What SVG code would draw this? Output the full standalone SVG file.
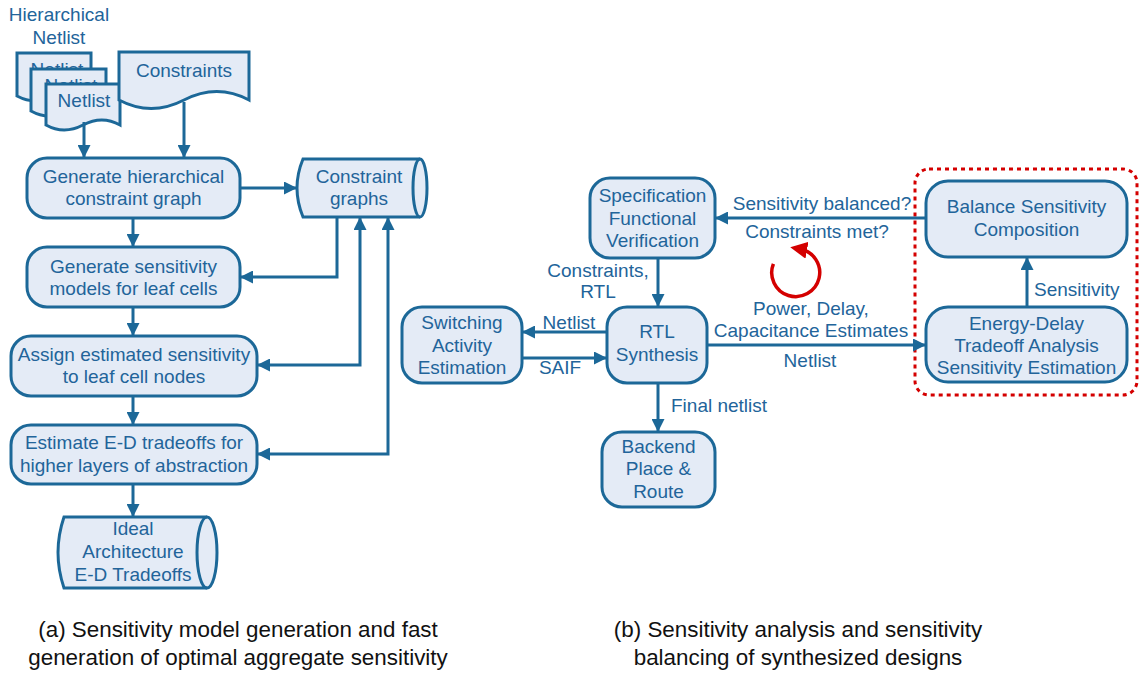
<svg xmlns="http://www.w3.org/2000/svg" width="1141" height="675" viewBox="0 0 1141 675">
<defs>
<style>
.n{fill:#e4ebf6;stroke:#1c6898;stroke-width:3}
.l{fill:none;stroke:#1c6898;stroke-width:3}
text{font-family:"Liberation Sans",Arial,sans-serif;font-size:19px;fill:#22649a}
.c{text-anchor:middle}
.cap{font-size:22.4px;fill:#111;text-anchor:middle}
</style>
<marker id="ah" viewBox="0 0 12 12" refX="12" refY="6" markerWidth="13" markerHeight="13" markerUnits="userSpaceOnUse" orient="auto-start-reverse">
<path d="M0,0 L12,6 L0,12 Z" fill="#1c6898"/>
</marker>
<marker id="rh" viewBox="0 0 12 12" refX="5" refY="6" markerWidth="17" markerHeight="17" markerUnits="userSpaceOnUse" orient="auto">
<path d="M0,0 L12,6 L0,12 Z" fill="#d40000"/>
</marker>
<clipPath id="c1"><path d="M17,53 H91 V69 H31 V96 H17 Z"/></clipPath>
<clipPath id="c2"><path d="M31,69 H106 V84 H46 V111 H31 Z"/></clipPath>
</defs>
<rect width="1141" height="675" fill="#fff"/>

<g id="hier-label"><text class="c" x="59" y="21">Hierarchical</text><text class="c" x="59" y="44">Netlist</text></g>

<g id="netlist1"><path class="n" d="M17,53 H91 V96 Q72,86 54,96 T17,96 Z"/><text class="c" x="57" y="76" clip-path="url(#c1)">Netlist</text></g>
<g id="netlist2"><path class="n" d="M31,69 H106 V111 Q87,101 68,111 T31,111 Z"/><text class="c" x="71" y="92" clip-path="url(#c2)">Netlist</text></g>
<g id="netlist3"><path class="n" d="M46,84 H120 V125 Q102,115 83,125 T46,125 Z"/><text class="c" x="84" y="107">Netlist</text></g>
<g id="constraints"><path class="n" d="M119,52 H249 V100 Q217,83 184,100 T119,100 Z"/><text class="c" x="184" y="77">Constraints</text></g>

<g id="gen-hier"><rect class="n" x="27" y="158" width="213" height="60" rx="20"/><text class="c" x="133.5" y="183">Generate hierarchical</text><text class="c" x="133.5" y="205">constraint graph</text></g>
<g id="constraint-graphs"><path class="n" d="M303,159 H420 A7,29 0 0 1 420,217 H303 Q291,188 303,159 Z"/><path class="l" d="M420,159 A7,29 0 0 0 420,217"/><text class="c" x="359" y="183">Constraint</text><text class="c" x="359" y="205">graphs</text></g>
<g id="gen-sens"><rect class="n" x="27" y="247" width="213" height="60" rx="20"/><text class="c" x="133.5" y="273">Generate sensitivity</text><text class="c" x="133.5" y="295">models for leaf cells</text></g>
<g id="assign"><rect class="n" x="11" y="336" width="246" height="60" rx="20"/><text class="c" x="134" y="361">Assign estimated sensitivity</text><text class="c" x="134" y="383">to leaf cell nodes</text></g>
<g id="estimate"><rect class="n" x="11" y="425" width="246" height="59" rx="20"/><text class="c" x="134" y="449">Estimate E-D tradeoffs for</text><text class="c" x="134" y="472">higher layers of abstraction</text></g>
<g id="ideal"><path class="n" d="M64,517 H207 A10,35.5 0 0 1 207,588 H64 Q52,552.5 64,517 Z"/><path class="l" d="M207,517 A10,35.5 0 0 0 207,588"/><text class="c" x="133" y="535">Ideal</text><text class="c" x="133" y="558">Architecture</text><text class="c" x="133" y="581">E-D Tradeoffs</text></g>

<g id="spec"><rect class="n" x="590" y="178" width="125" height="80" rx="20"/><text class="c" x="652.5" y="202">Specification</text><text class="c" x="652.5" y="225">Functional</text><text class="c" x="652.5" y="247">Verification</text></g>
<g id="switching"><rect class="n" x="402" y="307" width="120" height="76" rx="20"/><text class="c" x="462" y="329">Switching</text><text class="c" x="462" y="352">Activity</text><text class="c" x="462" y="374">Estimation</text></g>
<g id="rtl"><rect class="n" x="607" y="307" width="100" height="76" rx="20"/><text class="c" x="657" y="338">RTL</text><text class="c" x="657" y="361">Synthesis</text></g>
<g id="backend"><rect class="n" x="602" y="432" width="113" height="75" rx="20"/><text class="c" x="658.5" y="453">Backend</text><text class="c" x="658.5" y="475">Place &amp;</text><text class="c" x="658.5" y="498">Route</text></g>
<g id="balance"><rect class="n" x="926" y="181" width="201" height="76" rx="22"/><text class="c" x="1026.5" y="213">Balance Sensitivity</text><text class="c" x="1026.5" y="236">Composition</text></g>
<g id="energy-delay"><rect class="n" x="926" y="307" width="201" height="75" rx="22"/><text class="c" x="1026.5" y="330">Energy-Delay</text><text class="c" x="1026.5" y="352">Tradeoff Analysis</text><text class="c" x="1026.5" y="374">Sensitivity Estimation</text></g>
<g id="group-box"><rect x="915" y="169" width="222" height="226" rx="14" fill="none" stroke="#d40000" stroke-width="3" stroke-dasharray="4,4"/></g>

<g id="connectors">
<path class="l" marker-end="url(#ah)" d="M84,122 V158"/>
<path class="l" marker-end="url(#ah)" d="M184,102 V158"/>
<path class="l" marker-end="url(#ah)" d="M240,188 H297"/>
<path class="l" marker-end="url(#ah)" d="M337,217 V277 H240"/>
<path class="l" marker-start="url(#ah)" marker-end="url(#ah)" d="M257,365 H360 V217"/>
<path class="l" marker-start="url(#ah)" marker-end="url(#ah)" d="M257,454 H388 V217"/>
<path class="l" marker-end="url(#ah)" d="M133,218 V247"/>
<path class="l" marker-end="url(#ah)" d="M133,307 V336"/>
<path class="l" marker-end="url(#ah)" d="M133,396 V425"/>
<path class="l" marker-end="url(#ah)" d="M133,484 V517"/>

<path class="l" marker-end="url(#ah)" d="M658,258 V307"/>
<path class="l" marker-end="url(#ah)" d="M607,332 H522"/>
<path class="l" marker-end="url(#ah)" d="M522,358 H607"/>
<path class="l" marker-end="url(#ah)" d="M658,383 V432"/>
<path class="l" marker-end="url(#ah)" d="M707,345 H926"/>
<path class="l" marker-end="url(#ah)" d="M1027,307 V257"/>
<path class="l" marker-end="url(#ah)" d="M926,218 H715"/>

<path d="M773.4,263.8 A24,24 0 1 0 800,249" fill="none" stroke="#d40000" stroke-width="3.5" marker-end="url(#rh)"/>

<text class="c" x="598" y="277">Constraints,</text>
<text class="c" x="598" y="298">RTL</text>
<text class="c" x="569" y="329">Netlist</text>
<text class="c" x="560" y="374">SAIF</text>
<text x="671" y="412">Final netlist</text>
<text class="c" x="811" y="315">Power, Delay,</text>
<text class="c" x="811" y="337">Capacitance Estimates</text>
<text class="c" x="810" y="367">Netlist</text>
<text x="1034" y="296">Sensitivity</text>
<text class="c" x="822" y="210">Sensitivity balanced?</text>
<text class="c" x="817" y="238">Constraints met?</text>
</g>

<g id="captions">
<text class="cap" x="238" y="637">(a) Sensitivity model generation and fast</text>
<text class="cap" x="238" y="665">generation of optimal aggregate sensitivity</text>
<text class="cap" x="798" y="637">(b) Sensitivity analysis and sensitivity</text>
<text class="cap" x="798" y="665">balancing of synthesized designs</text>
</g>
</svg>
